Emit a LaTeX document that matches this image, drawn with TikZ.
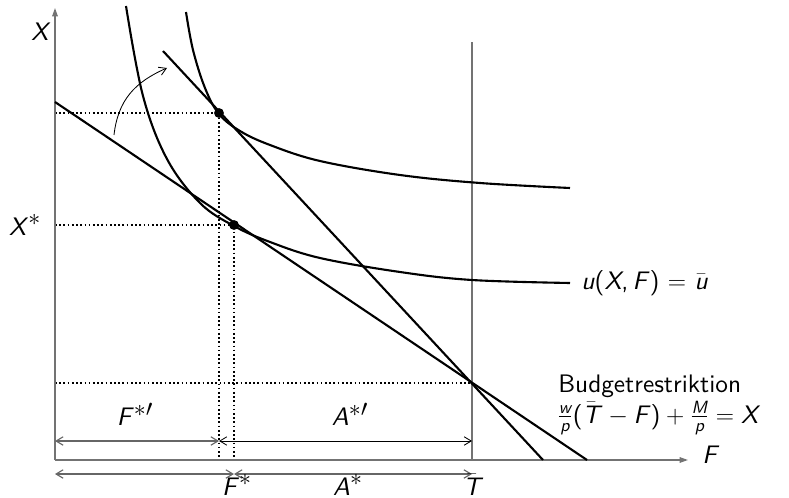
\RequirePackage{fix-cm}
\documentclass[tikz,border=0pt]{standalone}
\usepackage{fontspec}
\setsansfont{lmsans10-regular.otf}[ItalicFont=lmsans10-oblique.otf]
\usetikzlibrary{arrows.meta}
\newcommand{\ivar}[1]{\textit{#1}}
\newcommand{\ibar}[1]{$\bar{\hbox{\itshape #1}}$}
\newcommand{\isup}[1]{$^{\hbox{\fontsize{17pt}{17pt}\selectfont$#1$}}$}
\newcommand{\ifrac}[2]{\frac{\hbox{\fontsize{12.6pt}{13pt}\selectfont\itshape #1}}{\hbox{\fontsize{12.6pt}{13pt}\selectfont\itshape #2}}}
\tikzset{
    >={Straight Barb[length=5pt,width=6pt]},
    axis/.style={draw=black!55,line width=0.9pt,-{Triangle[length=6pt,width=4pt]}},
    curve/.style={draw,line width=1.5pt},
    guide/.style={draw,line width=0.8pt,dash pattern=on 1.2pt off 1.8pt},
    dimline/.style={draw=black!60,line width=0.8pt,<->},
    lbl/.style={font=\fontsize{18pt}{21pt}\selectfont\sffamily,inner sep=0pt}
}

\begin{document}
\begin{tikzpicture}[x=0.025cm,y=-0.025cm]
\useasboundingbox (0,0) rectangle (789,498);

% Points
\coordinate (O) at (55,460);
\coordinate (ytop) at (55,8);
\coordinate (xend) at (688,460);
\coordinate (Ttop) at (472,42);
\coordinate (Tbot) at (472,460);
\coordinate (b1s) at (55,102);
\coordinate (b1e) at (587,460);
\coordinate (b2s) at (163,51);
\coordinate (b2e) at (543,460);
\coordinate (kink) at (472,383);
\coordinate (opt1) at (234,225);
\coordinate (opt2) at (219,113);
\coordinate (row1) at (0,441);
\coordinate (row2) at (0,474);
\coordinate (shfrom) at (114,135);
\coordinate (shto) at (167,68);

% Guides
\draw[guide] (O |- opt2) -- (opt2) -- (opt2 |- O);
\draw[guide] (O |- opt1) -- (opt1) -- (opt1 |- O);
\draw[guide] (O |- kink) -- (kink);

% Axes
\draw[axis] (O) -- (ytop);
\draw[axis] (O) -- (xend);
\draw[draw=black!55,line width=0.9pt] (Tbot) -- (Ttop);

% Budget lines
\draw[curve] (b1s) -- (b1e);
\draw[curve] (b2s) -- (b2e);

% Indifference curves
\draw[curve] plot[smooth,tension=0.6] coordinates {(126,6) (143,96) (167,159) (200,203) (234,226) (270,242) (320,258) (400,272) (472,280) (570,283)};
\draw[curve] plot[smooth,tension=0.6] coordinates {(186,12) (193,50) (205,88) (219,114) (240,131) (270,145) (320,161) (400,175) (480,183) (570,188)};

% Optima
\fill (opt1) circle (3.5pt);
\fill (opt2) circle (3.5pt);

% Shift
\draw[line width=0.6pt,->] (shfrom) .. controls (118,100) and (135,82) .. (shto);

% Dimensions
\draw[dimline] (O |- row1) -- (opt2 |- row1);
\draw[dimline,draw=black,line width=0.6pt] (opt2 |- row1) -- (Tbot |- row1);
\draw[dimline] (O |- row2) -- (opt1 |- row2);
\draw[dimline] (opt1 |- row2) -- (Tbot |- row2);

% Labels
\node[lbl] (lX) at (41,32) {\ivar{X}};
\node[lbl] (lXs) at (25,225) {\ivar{X}\isup{\ast}};
\node[lbl] (lF) at (711,455) {\ivar{F}};
\node[lbl,anchor=west] (lU) at (581,283) {\ivar{u}(\ivar{X},\,\ivar{F})~$=$~\ibar{u}};
\node[lbl,anchor=west] (lBud) at (558,386) {Budgetrestriktion};
\node[lbl,anchor=west] (lBc) at (557,418) {$\ifrac{w}{p}\hbox{(\ibar{T}}\mskip2mu-\hbox{\ivar{F})}+\ifrac{M}{p}=\hbox{\ivar{X}}$};
\node[lbl] (lFp) at (135,414) {\ivar{F}\isup{\ast\prime}};
\node[lbl] (lAp) at (350,414) {\ivar{A}\isup{\ast\prime}};
\node[lbl] (lFs) at (237,485) {\ivar{F}\isup{\ast}};
\node[lbl] (lAs) at (348,485) {\ivar{A}\isup{\ast}};
\node[lbl] (lT) at (472,485) {\ibar{T}};

\end{tikzpicture}
\end{document}
